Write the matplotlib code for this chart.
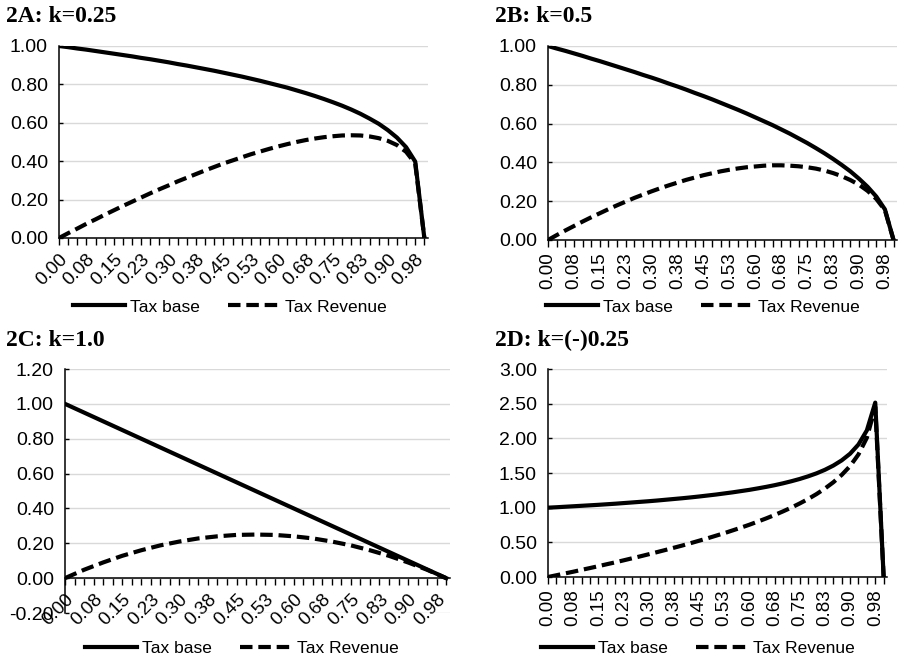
import matplotlib
matplotlib.use('Agg')
import matplotlib.pyplot as plt
import numpy as np

# tax rate categories 0.000 .. 1.000 step 0.025, labelled every 3rd
tick_labels = ['0.00', '0.08', '0.15', '0.23', '0.30', '0.38', '0.45',
               '0.53', '0.60', '0.68', '0.75', '0.83', '0.90', '0.98']

base_a = [1.000, .994, .987, .981, .974, .967, .960, .953, .946, .938, .931,
          .923, .915, .906, .898, .889, .880, .871, .861, .851, .841, .830,
          .819, .807, .795, .783, .769, .755, .740, .724, .707, .689, .669,
          .647, .622, .595, .562, .523, .473, .398, 0]
rev_a = [0, .025, .049, .074, .097, .121, .144, .167, .189, .211, .233, .254,
         .274, .295, .314, .333, .352, .370, .388, .404, .420, .436, .450,
         .464, .477, .489, .500, .510, .518, .525, .530, .534, .535, .534,
         .529, .520, .506, .484, .449, .388, 0]

base_b = [1.000, .987, .975, .962, .949, .935, .922, .908, .894, .880, .866,
          .851, .837, .822, .806, .791, .775, .758, .742, .725, .707, .689,
          .671, .652, .632, .612, .592, .570, .548, .524, .500, .474, .447,
          .418, .387, .354, .316, .274, .224, .158, 0]
rev_b = [0, .025, .049, .072, .095, .117, .138, .159, .179, .198, .217, .234,
         .251, .267, .282, .296, .310, .322, .334, .344, .354, .362, .369,
         .375, .379, .383, .385, .385, .383, .380, .375, .368, .358, .345,
         .329, .309, .285, .253, .212, .154, 0]

base_c = [1.000, .975, .95, .925, .9, .875, .85, .825, .8, .775, .75, .725,
          .7, .675, .65, .625, .6, .575, .55, .525, .5, .475, .45, .425, .4,
          .375, .35, .325, .3, .275, .25, .225, .2, .175, .15, .125, .1,
          .075, .05, .025, 0]
rev_c = [0, .024, .048, .069, .090, .109, .128, .144, .160, .174, .188, .199,
         .210, .219, .228, .234, .240, .244, .248, .249, .250, .249, .248,
         .244, .240, .234, .228, .219, .210, .199, .188, .174, .160, .144,
         .128, .109, .090, .069, .048, .024, 0]

base_d = [1.000, 1.006, 1.013, 1.020, 1.027, 1.034, 1.041, 1.049, 1.057,
          1.066, 1.075, 1.084, 1.093, 1.103, 1.114, 1.125, 1.136, 1.148,
          1.161, 1.175, 1.189, 1.205, 1.221, 1.239, 1.257, 1.278, 1.300,
          1.324, 1.351, 1.381, 1.414, 1.452, 1.495, 1.546, 1.607, 1.682,
          1.778, 1.911, 2.115, 2.515, 0]
rev_d = [0, .025, .051, .076, .103, .129, .156, .184, .211, .240, .269, .298,
         .328, .359, .390, .422, .454, .488, .523, .558, .595, .632, .672,
         .712, .754, .799, .845, .894, .946, 1.001, 1.061, 1.125, 1.196,
         1.276, 1.366, 1.472, 1.600, 1.768, 2.009, 2.452, 0]

W, H = 900, 659
fig = plt.figure(figsize=(9, 6.59), dpi=100)
sans = ['Liberation Sans', 'DejaVu Sans']


def frac(l, t, r, b):
    return [l / W, 1 - b / H, (r - l) / W, (b - t) / H]


panels = [
    dict(title='2A: k=0.25', tpos=(6, 17), rect=frac(59, 46, 428, 238),
         base=base_a, rev=rev_a, ylim=(0, 1.0), step=0.2, rot=45,
         leg=(230, 307)),
    dict(title='2B: k=0.5', tpos=(495, 17), rect=frac(548, 46, 897, 240),
         base=base_b, rev=rev_b, ylim=(0, 1.0), step=0.2, rot=90,
         leg=(703, 307)),
    dict(title='2C: k=1.0', tpos=(6, 340), rect=frac(65, 369, 450, 613),
         base=base_c, rev=rev_c, ylim=(-0.2, 1.2), step=0.2, rot=45,
         leg=(242, 648)),
    dict(title='2D: k=(-)0.25', tpos=(495, 340), rect=frac(548, 369, 887, 577),
         base=base_d, rev=rev_d, ylim=(0, 3.0), step=0.5, rot=90,
         leg=(698, 648)),
]

for p in panels:
    ax = fig.add_axes(p['rect'])
    for s in ['top', 'right']:
        ax.spines[s].set_visible(False)
    for s in ['left', 'bottom']:
        ax.spines[s].set_color('black')
        ax.spines[s].set_linewidth(1.1)
    lo, hi = p['ylim']
    if lo < 0:
        # category axis crosses at zero, like the Excel original
        ax.spines['bottom'].set_position(('data', 0))

    x = np.arange(len(p['base']))
    ax.plot(x, p['base'], color='black', lw=3, solid_joinstyle='round',
            label='Tax base')
    ax.plot(x, p['rev'], color='black', lw=3, dashes=(3, 1.4),
            label='Tax Revenue')

    yt = np.arange(lo, hi + 1e-9, p['step'])
    ax.set_ylim(lo, hi)
    ax.set_yticks(yt)
    ax.set_yticklabels(['%.2f' % v for v in yt], family=sans, fontsize=14)
    ax.set_xlim(0, len(x) - 1 + 0.4)
    ax.set_xticks(x[::3])
    ax.set_xticks(x, minor=True)
    if p['rot'] == 45:
        ax.set_xticklabels(tick_labels, rotation=45, ha='right',
                           rotation_mode='anchor', family=sans, fontsize=13.5)
    else:
        ax.set_xticklabels(tick_labels, rotation=90, family=sans,
                           fontsize=13.5)

    ax.grid(axis='y', color='#d9d9d9', lw=1)
    ax.set_axisbelow(True)
    ax.tick_params(axis='y', direction='in', length=3, width=1, pad=8)
    ax.tick_params(axis='x', which='both', direction='out', length=5,
                   width=1, pad=4)

    fig.text(p['tpos'][0] / W, 1 - p['tpos'][1] / H, p['title'],
             family=['Liberation Serif', 'DejaVu Serif'], fontweight='bold',
             fontsize=17, va='center', ha='left')
    lx, ly = p['leg']
    ax.legend(loc='center', bbox_to_anchor=(lx / W, 1 - ly / H),
              bbox_transform=fig.transFigure, ncol=2, frameon=False,
              handlelength=3.0, columnspacing=1.6, handletextpad=0.3,
              prop={'family': sans, 'size': 12.5})

fig.savefig('out.png', dpi=100)
